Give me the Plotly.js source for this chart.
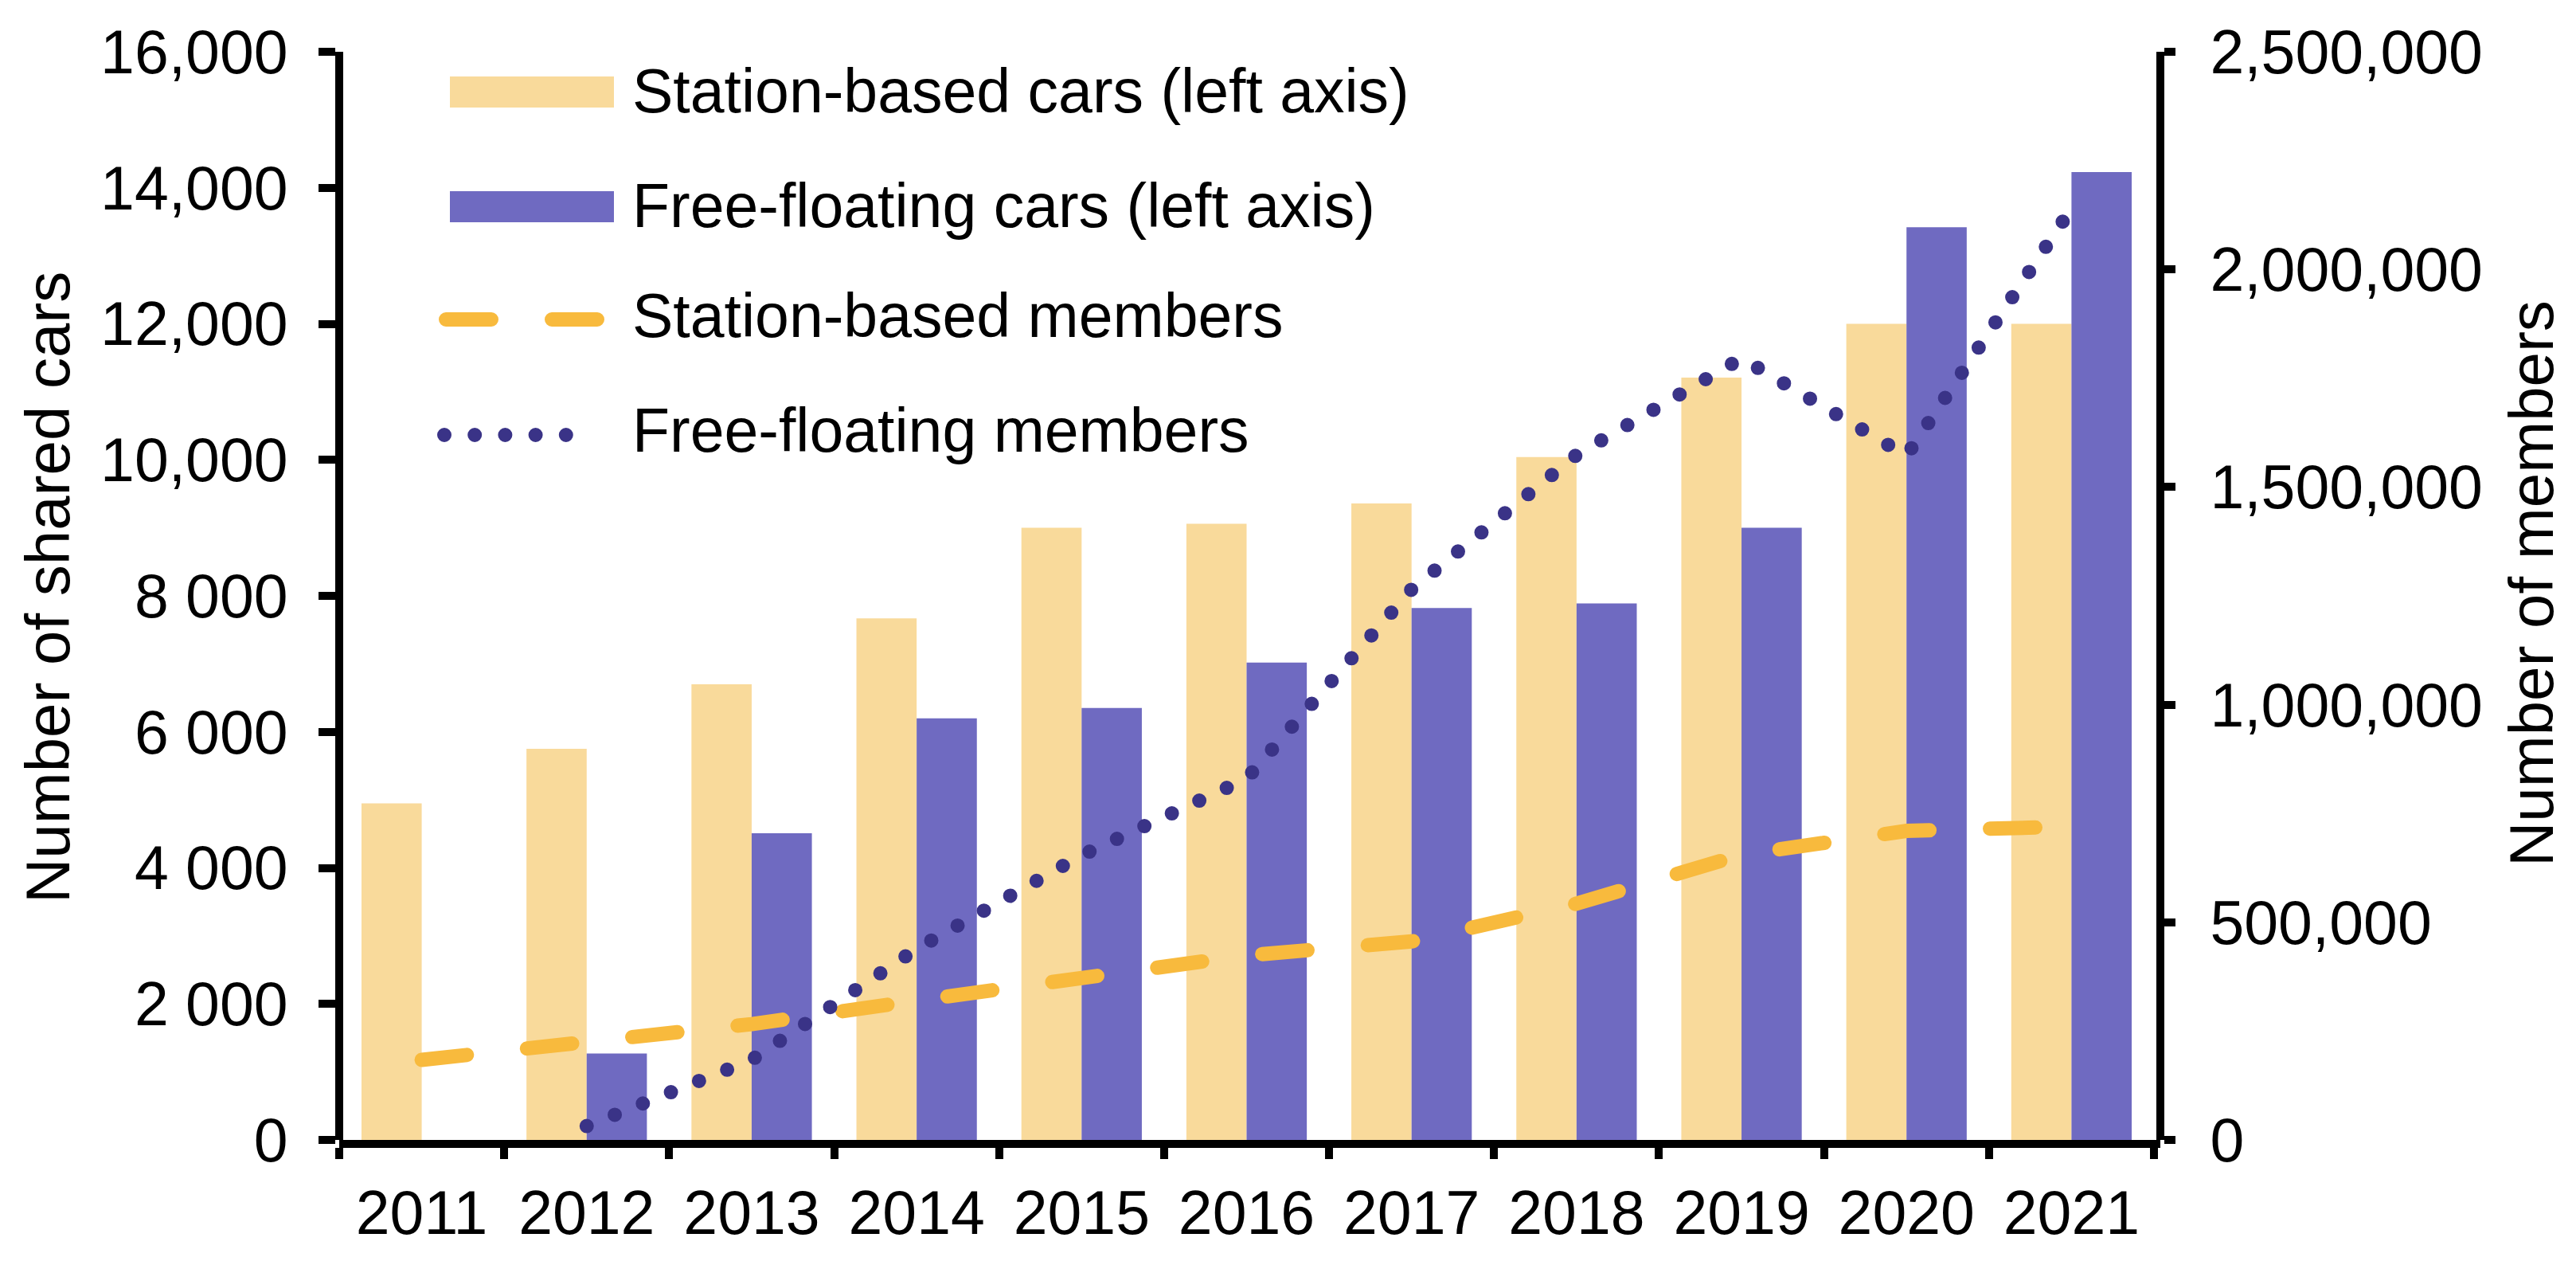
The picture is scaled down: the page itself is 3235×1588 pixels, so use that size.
<!DOCTYPE html>
<html>
<head>
<meta charset="utf-8">
<script src="https://cdn.plot.ly/plotly-3.0.1.min.js"></script>
<style>
html,body{margin:0;padding:0;background:#fff;}
#chart{width:3235px;height:1588px;}
</style>
</head>
<body>
<div id="chart"></div>
<script>
// ---- data ----
var categories = ['2011','2012','2013','2014','2015','2016','2017','2018','2019','2020','2021'];
var stationCars = [4950, 5750, 6700, 7670, 9000, 9060, 9360, 10040, 11210, 12000, 12000];
var freeCars = [null, 1270, 4510, 6200, 6350, 7020, 7820, 7890, 9000, 13420, 14230];
var stationMembers = [184000, 224000, 266000, 320000, 375000, 424000, 456000, 543000, 655000, 710000, 720000];
var freeMembers = [null, 32000, 184000, 439000, 654000, 830000, 1265000, 1574000, 1796000, 1572000, 2140000];

var leftTickVals = [0, 2000, 4000, 6000, 8000, 10000, 12000, 14000, 16000];
var leftTickText = ['0', '2 000', '4 000', '6 000', '8 000', '10,000', '12,000', '14,000', '16,000'];
var rightTickVals = [0, 500000, 1000000, 1500000, 2000000, 2500000];
var rightTickText = ['0', '500,000', '1,000,000', '1,500,000', '2,000,000', '2,500,000'];

var legendLabels = ['Station-based cars (left axis)', 'Free-floating cars (left axis)', 'Station-based members', 'Free-floating members'];
var leftTitle = 'Number of shared cars';
var rightTitle = 'Number of members';

// ---- style ----
var FONT = 'Liberation Sans, Arial, Helvetica, sans-serif';
var cStationBar = '#F9DA9B';
var cFreeBar = '#6F6AC1';
var cStationLine = '#F8BA3D';
var cFreeLine = '#3A3387';
var LW = 18;
var stationDash = '57px,76px';
var freeDash = '0px,38px';

var traces = [
  {type:'bar', x:categories, y:stationCars, name:legendLabels[0], marker:{color:cStationBar, line:{width:0}}, xaxis:'x', yaxis:'y'},
  {type:'bar', x:categories, y:freeCars, name:legendLabels[1], marker:{color:cFreeBar, line:{width:0}}, xaxis:'x', yaxis:'y'},
  {type:'scatter', mode:'lines', x:categories, y:stationMembers, name:legendLabels[2], line:{color:cStationLine, width:LW, dash:stationDash}, xaxis:'x', yaxis:'y2', connectgaps:false},
  {type:'scatter', mode:'lines', x:categories, y:freeMembers, name:legendLabels[3], line:{color:cFreeLine, width:LW, dash:freeDash}, xaxis:'x', yaxis:'y2', connectgaps:false}
];

// plot area in pixels
var W = 3235, H = 1588;
var L = 426, R = 522, T = 65, B = 157;
var PW = W - L - R, PH = H - T - B;
function px(x){ return (x - L) / PW; }
function py(y){ return (H - B - y) / PH; }

// hand-drawn legend (wide swatches as in the reference)
var shapes = [
  {type:'rect', xref:'paper', yref:'paper', x0:px(565), x1:px(771), y0:py(135), y1:py(96), fillcolor:cStationBar, line:{width:0}},
  {type:'rect', xref:'paper', yref:'paper', x0:px(565), x1:px(771), y0:py(279), y1:py(240), fillcolor:cFreeBar, line:{width:0}},
  {type:'line', xref:'paper', yref:'paper', x0:px(560), x1:px(750), y0:py(401), y1:py(401), line:{color:cStationLine, width:LW, dash:stationDash}},
  {type:'line', xref:'paper', yref:'paper', x0:px(558), x1:px(749), y0:py(546), y1:py(546), line:{color:cFreeLine, width:LW, dash:'0px,38.2px'}}
];
var rowY = [114, 258, 396, 540];
var annotations = legendLabels.map(function(t, i){
  return {xref:'paper', yref:'paper', x:px(792), y:py(rowY[i]), xanchor:'left', yanchor:'middle', text:t, showarrow:false, font:{family:FONT, size:77, color:'#000'}};
});
// axis titles
annotations.push({xref:'paper', yref:'paper', x:px(60), y:py(738), xanchor:'center', yanchor:'middle', textangle:-90, text:leftTitle, showarrow:false, font:{family:FONT, size:78, color:'#000'}});
annotations.push({xref:'paper', yref:'paper', x:px(3179), y:py(733), xanchor:'center', yanchor:'middle', textangle:-90, text:rightTitle, showarrow:false, font:{family:FONT, size:78, color:'#000'}});

var layout = {
  width: W, height: H,
  margin: {l:L, r:R, t:T, b:B, pad:0},
  paper_bgcolor:'#fff', plot_bgcolor:'#fff',
  font: {family:FONT, size:77, color:'#000'},
  showlegend: false,
  barmode: 'group', bargap: 0.27, bargroupgap: 0,
  xaxis: {
    type:'category', range:[-0.5, 10.5386], showgrid:false, zeroline:false,
    showline:true, linecolor:'#000', linewidth:10,
    ticks:'outside', tickson:'boundaries', ticklen:14, tickwidth:10, tickcolor:'#000',
    ticklabelstandoff:16,
    tickfont:{family:FONT, size:77, color:'#000'},
    automargin:false
  },
  yaxis: {
    range:[0,16000], anchor:'free', position:0, showgrid:false, zeroline:false,
    showline:true, linecolor:'#000', linewidth:10,
    ticks:'outside', ticklen:21, tickwidth:10, tickcolor:'#000',
    ticklabelstandoff:23,
    tickvals:leftTickVals, ticktext:leftTickText,
    tickfont:{family:FONT, size:77, color:'#000'},
    automargin:false
  },
  yaxis2: {
    range:[0,2500000], overlaying:'y', side:'right', anchor:'free', position:1, showgrid:false, zeroline:false,
    showline:true, linecolor:'#000', linewidth:10,
    ticks:'outside', ticklen:14, tickwidth:10, tickcolor:'#000',
    ticklabelstandoff:28,
    tickvals:rightTickVals, ticktext:rightTickText,
    tickfont:{family:FONT, size:77, color:'#000'},
    automargin:false
  },
  shapes: shapes,
  annotations: annotations
};

Plotly.newPlot('chart', traces, layout, {staticPlot:true, displayModeBar:false}).then(function(){
  // rounded dash ends / round dots like the reference
  var paths = document.querySelectorAll('.scatterlayer path.js-line, .shapelayer path');
  paths.forEach(function(p){ p.style.strokeLinecap = 'round'; });
});
</script>
</body>
</html>
